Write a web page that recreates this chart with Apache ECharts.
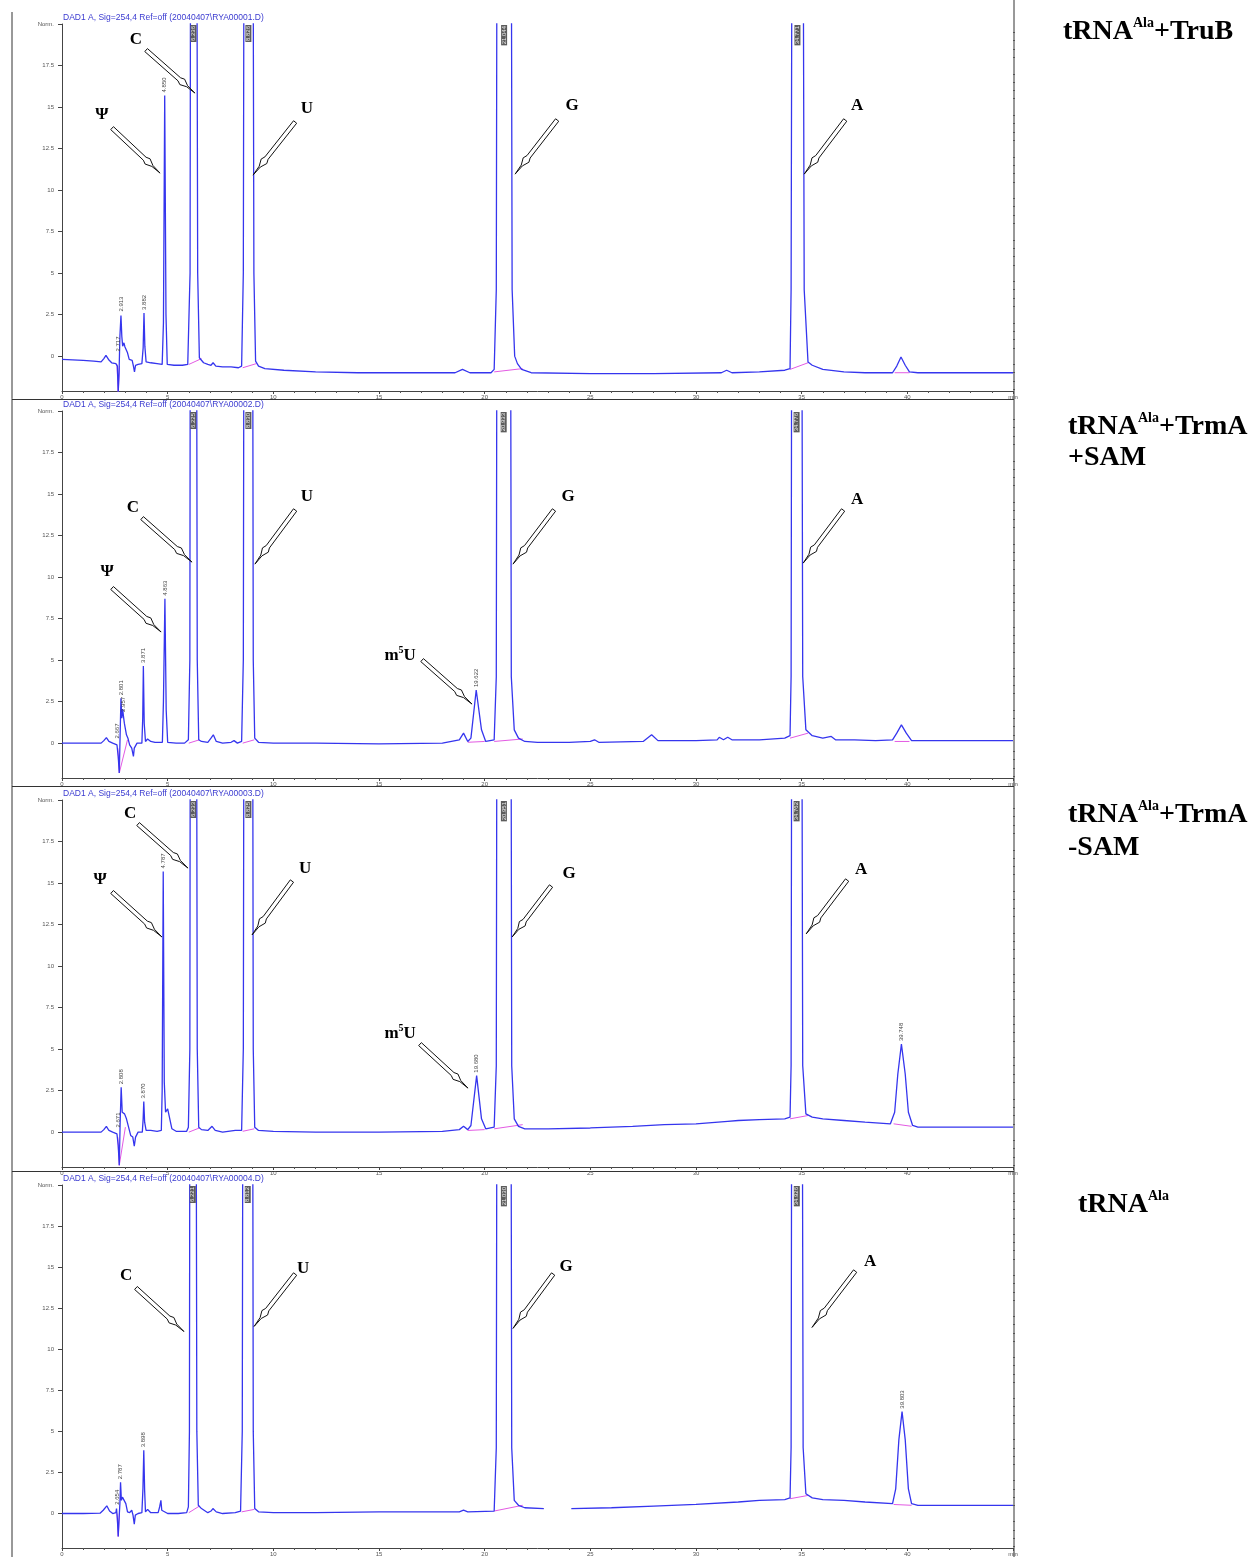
<!DOCTYPE html>
<html><head><meta charset="utf-8">
<script src="https://cdn.jsdelivr.net/npm/echarts@6/dist/echarts.min.js"></script>
<style>html,body{margin:0;padding:0;background:#fff}#c{width:1253px;height:1557px}</style>
</head><body><div id="c"></div>
<script>
// ---------- DATA ----------
const xTickLabels = ['0','5','10','15','20','25','30','35','40','min'];
const yMajorTicks = [0, 2.5, 5, 7.5, 10, 12.5, 15, 17.5, 20];
const yMinorTicks = [-2,-1.5,-1,-0.5,0.5,1,1.5,2,3,3.5,4,4.5,5.5,6,6.5,7,8,8.5,9,9.5,10.5,11,11.5,12,13,13.5,14,14.5,15.5,16,16.5,17,18,18.5,19,19.5];
const headers = [
  'DAD1 A, Sig=254,4 Ref=off (20040407\\RYA00001.D)',
  'DAD1 A, Sig=254,4 Ref=off (20040407\\RYA00002.D)',
  'DAD1 A, Sig=254,4 Ref=off (20040407\\RYA00003.D)',
  'DAD1 A, Sig=254,4 Ref=off (20040407\\RYA00004.D)'
];
// time (min), absorbance (norm.)
const traceTruB = [[0,-0.2],[0.5,-0.22],[1.0,-0.25],[1.5,-0.3],[1.85,-0.35],[1.98,-0.15],[2.08,0.05],[2.2,-0.2],[2.35,-0.4],[2.55,-0.45],[2.62,-0.6],[2.66,-2.2],[2.7,-1.0],[2.74,1.2],[2.79,2.45],[2.83,1.2],[2.87,0.6],[2.93,0.8],[2.98,0.55],[3.03,0.6],[3.1,0.2],[3.18,-0.2],[3.26,-0.15],[3.32,-0.25],[3.38,-0.6],[3.43,-0.95],[3.48,-0.55],[3.6,-0.5],[3.78,-0.45],[3.84,0.5],[3.88,2.6],[3.92,0.6],[3.98,-0.35],[4.2,-0.4],[4.5,-0.45],[4.74,-0.5],[4.8,2.0],[4.86,15.7],[4.92,2.5],[4.98,-0.5],[5.3,-0.55],[5.7,-0.55],[5.95,-0.5],[6.06,5],[6.12,60],[6.32,60],[6.42,5],[6.5,-0.1],[6.58,-0.2],[6.7,-0.4],[6.9,-0.5],[7.05,-0.55],[7.15,-0.4],[7.28,-0.6],[7.6,-0.65],[8.0,-0.65],[8.35,-0.7],[8.5,-0.6],[8.58,5],[8.66,60],[8.98,60],[9.08,5],[9.16,-0.3],[9.3,-0.6],[9.6,-0.75],[10.5,-0.85],[12,-0.95],[14,-1.0],[16,-1.0],[18.6,-1.0],[18.95,-0.8],[19.3,-1.0],[20.3,-1.0],[20.45,-0.8],[20.55,4],[20.63,60],[21.2,60],[21.3,4],[21.42,0],[21.55,-0.45],[21.75,-0.8],[22.2,-1.0],[25,-1.05],[28,-1.05],[31.2,-1.0],[31.45,-0.85],[31.7,-1.0],[33,-0.95],[34.2,-0.85],[34.45,-0.75],[34.5,4],[34.6,60],[35.0,60],[35.12,4],[35.3,-0.35],[35.5,-0.55],[36,-0.8],[37,-0.95],[38,-1.0],[39.3,-1.0],[39.5,-0.6],[39.7,-0.05],[39.9,-0.55],[40.1,-0.95],[40.5,-1.0],[45,-1.0]];
const traceTrmAplus = [[0,0],[1.0,0],[1.85,0],[1.98,0.15],[2.1,0.33],[2.22,0.1],[2.4,0],[2.6,-0.1],[2.66,-0.8],[2.71,-1.8],[2.75,0.5],[2.79,2.7],[2.83,1.5],[2.87,2.05],[2.91,1.6],[2.95,1.2],[3.0,1.1],[3.05,0.5],[3.12,0.3],[3.2,-0.1],[3.3,-0.3],[3.38,-0.8],[3.42,-0.3],[3.55,0],[3.78,0],[3.82,1.5],[3.85,4.65],[3.89,1.2],[3.95,0.1],[4.05,0.25],[4.2,0.1],[4.4,0.05],[4.75,0.05],[4.8,2.5],[4.87,8.7],[4.93,2],[5.0,0.05],[5.4,0],[5.8,0],[5.98,0.2],[6.05,5],[6.1,60],[6.32,60],[6.4,5],[6.47,0.2],[6.6,0.1],[6.9,0.05],[7.05,0.3],[7.16,0.5],[7.3,0.1],[7.6,0],[8.0,0.05],[8.14,0.15],[8.3,0],[8.5,0.1],[8.58,5],[8.65,60],[8.98,60],[9.05,5],[9.12,0.3],[9.3,0.05],[10,0],[12,0],[15,-0.05],[18,0],[18.8,0.2],[19.0,0.6],[19.2,0.1],[19.35,0.3],[19.6,3.2],[19.85,0.8],[20.05,0.1],[20.45,0.2],[20.55,4],[20.62,60],[21.18,60],[21.26,4],[21.4,0.8],[21.6,0.3],[21.9,0.1],[22.5,0.05],[24,0.05],[25.0,0.1],[25.2,0.2],[25.4,0.05],[27.5,0.1],[27.9,0.5],[28.2,0.15],[30,0.15],[31.0,0.2],[31.1,0.35],[31.3,0.2],[31.5,0.35],[31.7,0.2],[33,0.2],[34.2,0.3],[34.45,0.45],[34.5,4],[34.57,60],[34.95,60],[35.05,4],[35.2,0.8],[35.5,0.45],[36,0.3],[36.4,0.4],[36.6,0.2],[37.5,0.2],[38.5,0.15],[39.3,0.2],[39.5,0.6],[39.72,1.1],[39.95,0.6],[40.2,0.15],[41,0.15],[45,0.15]];
const traceTrmAminus = [[0,0],[1.0,0],[1.85,0],[1.98,0.15],[2.1,0.35],[2.22,0.1],[2.4,0],[2.6,-0.1],[2.66,-0.8],[2.71,-2.0],[2.75,0.5],[2.8,2.7],[2.85,1.2],[2.9,1.3],[2.96,1.1],[3.05,0.8],[3.15,0.3],[3.25,-0.2],[3.35,-0.3],[3.42,-0.85],[3.48,-0.3],[3.6,0],[3.8,0],[3.84,0.8],[3.87,1.85],[3.91,0.6],[3.98,0.1],[4.2,0.1],[4.5,0.05],[4.7,0.1],[4.74,2.5],[4.79,15.7],[4.84,3],[4.9,1.2],[5.0,1.4],[5.1,0.8],[5.2,0.2],[5.4,0.05],[5.9,0.05],[5.98,0.3],[6.05,5],[6.1,60],[6.32,60],[6.4,5],[6.47,0.3],[6.6,0.15],[6.9,0.1],[7.1,0.35],[7.25,0.1],[7.6,0],[8.2,0.1],[8.5,0.1],[8.58,5],[8.65,60],[8.98,60],[9.05,5],[9.12,0.3],[9.3,0.1],[10,0.05],[12,0],[15,0],[18,0.05],[18.8,0.15],[19.0,0.35],[19.2,0.15],[19.35,0.4],[19.62,3.4],[19.85,0.8],[20.05,0.2],[20.45,0.3],[20.55,4],[20.62,60],[21.2,60],[21.28,4],[21.4,0.8],[21.6,0.35],[21.9,0.2],[23,0.2],[25,0.25],[27,0.35],[28.5,0.45],[30,0.5],[31.5,0.65],[32,0.7],[33,0.75],[34.2,0.8],[34.45,0.9],[34.5,4],[34.57,60],[34.95,60],[35.05,4],[35.2,1.1],[35.5,0.9],[36,0.8],[37,0.7],[38,0.6],[39.2,0.5],[39.4,1.2],[39.55,3.5],[39.72,5.3],[39.9,3.5],[40.05,1.2],[40.25,0.4],[40.5,0.3],[42,0.3],[45,0.3]];
const traceControl = [[0,0],[1.0,0],[1.8,0.02],[1.95,0.2],[2.12,0.47],[2.25,0.15],[2.4,0],[2.55,0.05],[2.58,0.3],[2.62,-0.3],[2.66,-1.4],[2.7,-0.3],[2.74,0.6],[2.77,1.9],[2.81,0.8],[2.86,1.0],[2.95,0.9],[3.02,0.6],[3.1,0.1],[3.2,0.05],[3.3,0.2],[3.36,-0.1],[3.42,-0.65],[3.47,-0.1],[3.6,0],[3.78,0.05],[3.83,1.5],[3.87,3.85],[3.91,1.4],[3.95,0.1],[4.05,0.25],[4.2,0.05],[4.55,0.05],[4.62,0.4],[4.68,0.8],[4.72,0.2],[4.78,0.1],[5.0,0],[5.5,0],[5.9,0.05],[5.98,0.4],[6.03,5],[6.08,60],[6.3,60],[6.38,5],[6.45,0.5],[6.6,0.3],[6.9,0.05],[7.05,0.15],[7.14,0.3],[7.3,0.1],[7.6,0],[8.2,0.05],[8.45,0.15],[8.53,5],[8.6,60],[8.98,60],[9.05,5],[9.12,0.3],[9.3,0.1],[10,0.05],[12,0.05],[15,0.1],[18,0.1],[18.8,0.1],[19.0,0.2],[19.2,0.1],[20.45,0.15],[20.55,4],[20.62,60],[21.2,60],[21.28,4],[21.4,0.8],[21.6,0.5],[21.9,0.35],[22.8,0.3],[22.85,'-'],[24.1,0.3],[26,0.35],[28,0.45],[30,0.55],[32,0.7],[33,0.8],[34.2,0.85],[34.45,0.95],[34.5,4],[34.57,60],[34.97,60],[35.07,4],[35.2,1.2],[35.5,0.95],[36,0.85],[37,0.8],[38,0.7],[39.3,0.6],[39.45,1.5],[39.6,4.5],[39.75,6.2],[39.9,4.5],[40.05,1.5],[40.2,0.6],[40.5,0.5],[42,0.5],[45,0.5]];
// integration baselines (pink)
const baseTruB = [[2.6,-0.5],[2.66,-2.2],[2.72,-0.6],[2.73,'-'],[6.0,-0.5],[6.6,-0.15],[6.61,'-'],[8.55,-0.7],[9.2,-0.45],[9.21,'-'],[20.45,-0.95],[21.8,-0.75],[21.81,'-'],[34.45,-0.8],[35.3,-0.4],[35.31,'-'],[39.4,-1.0],[40.1,-1.0]];
const baseTrmAplus = [[2.64,-0.3],[2.71,-1.8],[3.1,0.2],[3.11,'-'],[6.0,0],[6.5,0.2],[6.51,'-'],[8.55,0],[9.1,0.2],[9.11,'-'],[19.2,0.05],[20.0,0.1],[20.01,'-'],[20.45,0.1],[21.8,0.25],[21.81,'-'],[34.45,0.3],[35.3,0.6],[35.31,'-'],[39.4,0.1],[40.1,0.1]];
const baseTrmAminus = [[2.64,-0.3],[2.71,-2.0],[3.0,0.3],[3.01,'-'],[6.0,0],[6.5,0.25],[6.51,'-'],[8.55,0.05],[9.1,0.2],[9.11,'-'],[19.2,0.1],[20.0,0.15],[20.01,'-'],[20.45,0.2],[21.8,0.45],[21.81,'-'],[34.45,0.8],[35.3,1.0],[35.31,'-'],[39.35,0.5],[40.2,0.35]];
const baseControl = [[2.6,0],[2.66,-1.4],[2.72,0],[2.73,'-'],[6.0,0.05],[6.5,0.45],[6.51,'-'],[8.5,0.1],[9.1,0.25],[9.11,'-'],[20.45,0.15],[21.8,0.5],[21.81,'-'],[34.45,0.9],[35.3,1.1],[35.31,'-'],[39.35,0.55],[40.2,0.5]];
const traces = [traceTruB, traceTrmAplus, traceTrmAminus, traceControl];
const baselines = [baseTruB, baseTrmAplus, baseTrmAminus, baseControl];
// retention time labels: [time, height, text]; height 'top' = off-scale peak
const rtLabels = [
  [[2.66,0.1,'2.717'],[2.79,2.5,'2.913'],[3.88,2.6,'3.882'],[4.86,15.7,'4.850'],[6.22,'top','6.236'],[8.82,'top','8.826'],[20.92,'top','21.044'],[34.8,'top','34.771']],
  [[2.64,0.1,'2.667'],[2.79,2.7,'2.801'],[2.9,1.7,'2.957'],[3.85,4.65,'3.871'],[4.87,8.7,'4.863'],[19.6,3.2,'19.622'],[6.21,'top','6.225'],[8.82,'top','8.830'],[20.9,'top','20.933'],[34.76,'top','34.776']],
  [[2.66,0.1,'2.671'],[2.8,2.7,'2.808'],[3.87,1.85,'3.870'],[4.79,15.7,'4.787'],[19.62,3.4,'19.680'],[39.72,5.3,'39.748'],[6.21,'top','6.233'],[8.82,'top','8.825'],[20.91,'top','20.951'],[34.76,'top','34.762']],
  [[2.6,0.35,'2.654'],[2.77,1.9,'2.787'],[3.87,3.85,'3.898'],[39.75,6.2,'39.803'],[6.19,'top','6.221'],[8.79,'top','8.812'],[20.91,'top','21.030'],[34.77,'top','34.926']]
];
// peak annotations: [label, letterT, letterV, tailT, tailV, tipT, tipV]
const annotations = [
  [['C',3.50,19.04,3.98,18.43,6.29,15.84],['Ψ',1.89,14.52,2.37,13.73,4.64,11.02],['U',11.59,14.88,11.03,14.10,9.04,10.90],['G',24.14,15.06,23.43,14.22,21.44,10.96],['A',37.62,15.06,37.06,14.22,35.12,10.96]],
  [['C',3.36,14.16,3.79,13.55,6.15,10.90],['Ψ',2.13,10.30,2.37,9.34,4.69,6.69],['U',11.59,14.82,11.03,14.04,9.13,10.78],['G',23.95,14.82,23.28,14.04,21.34,10.78],['A',37.62,14.64,36.96,14.04,35.07,10.84],['m5U',16.0,5.30,17.04,5.0,19.40,2.35]],
  [['C',3.22,19.16,3.60,18.55,5.96,15.90],['Ψ',1.80,15.18,2.37,14.46,4.73,11.75],['U',11.50,15.84,10.88,15.12,8.99,11.87],['G',23.99,15.54,23.14,14.82,21.30,11.75],['A',37.81,15.78,37.15,15.18,35.21,11.93],['m5U',16.0,5.96,16.94,5.30,19.21,2.65]],
  [['C',3.03,14.46,3.50,13.73,5.77,11.08],['U',11.41,14.88,11.03,14.58,9.09,11.39],['G',23.85,15.06,23.24,14.58,21.34,11.27],['A',38.24,15.36,37.53,14.76,35.49,11.33]]
];
const titles = [
  [['tRNA','Ala','+TruB']],
  [['tRNA','Ala','+TrmA'],['+SAM','','']],
  [['tRNA','Ala','+TrmA'],['-SAM','','']],
  [['tRNA','Ala','']]
];

// ---------- LAYOUT ----------
const gridTops = [24, 411, 800, 1185];
const gridH = 367, gridLeft = 62, gridW = 951;
const Y_MIN = -2.1, Y_MAX = 20;
const titlePos = [[1063, 32, 31], [1068, 427, 31], [1068, 815, 33], [1078, 1205, 31]];
const lineColor = '#3535ee';

const grids = [], xAxes = [], yAxes = [], series = [];
for (let p = 0; p < 4; p++) {
  grids.push({left: gridLeft, top: gridTops[p], width: gridW, height: gridH, containLabel: false});
  xAxes.push({
    type: 'value', gridIndex: p, min: 0, max: 45, interval: 5,
    axisLine: {onZero: false, lineStyle: {color: '#444', width: 1}},
    axisTick: {length: 3, lineStyle: {color: '#444'}},
    minorTick: {show: true, splitNumber: 5, length: 2, lineStyle: {color: '#555'}},
    splitLine: {show: false}, minorSplitLine: {show: false},
    axisLabel: {fontSize: 6, color: '#555', margin: 3, fontFamily: 'Liberation Sans',
      formatter: v => xTickLabels[Math.round(v / 5)] || ''}
  });
  yAxes.push({
    type: 'value', gridIndex: p, min: Y_MIN, max: Y_MAX,
    axisLine: {show: true, onZero: false, lineStyle: {color: '#444', width: 1}},
    axisTick: {show: true, length: 4, customValues: yMajorTicks, lineStyle: {color: '#444'}},
    axisLabel: {show: true, fontSize: 6, color: '#555', margin: 8, fontFamily: 'Liberation Sans',
      customValues: yMajorTicks, formatter: v => (v === 20 ? 'Norm.' : String(v))},
    splitLine: {show: false}
  });
  yAxes.push({
    type: 'value', gridIndex: p, min: Y_MIN, max: Y_MAX,
    axisLine: {show: false, onZero: false},
    axisTick: {show: true, length: 2, customValues: yMinorTicks, lineStyle: {color: '#555'}},
    axisLabel: {show: false}, splitLine: {show: false}
  });
  series.push({
    type: 'line', xAxisIndex: p, yAxisIndex: 2 * p, data: baselines[p],
    showSymbol: false, symbol: 'none', silent: true, clip: true, connectNulls: false,
    lineStyle: {color: '#e35ae3', width: 1}, z: 2
  });
  series.push({
    type: 'line', xAxisIndex: p, yAxisIndex: 2 * p, data: traces[p],
    showSymbol: false, symbol: 'none', silent: true, clip: true, connectNulls: false,
    lineStyle: {color: lineColor, width: 1.3}, z: 3
  });
}

const chart = echarts.init(document.getElementById('c'), null, {renderer: 'canvas'});
chart.setOption({
  animation: false, backgroundColor: '#fff',
  grid: grids, xAxis: xAxes, yAxis: yAxes, series: series
});

// ---------- DECORATIONS ----------
const g = [];
g.push({type: 'line', shape: {x1: 12, y1: 12, x2: 12, y2: 1557}, style: {stroke: '#333', lineWidth: 1}});
g.push({type: 'line', shape: {x1: 1014, y1: 0, x2: 1014, y2: 1557}, style: {stroke: '#333', lineWidth: 1}});
[399.5, 786.5, 1171.5].forEach(y => g.push({type: 'line', shape: {x1: 12, y1: y, x2: 1014, y2: y}, style: {stroke: '#333', lineWidth: 1}}));

const px = (p, t, v) => chart.convertToPixel({gridIndex: p}, [t, v]);
const serif = 'Liberation Serif';

for (let p = 0; p < 4; p++) {
  g.push({type: 'text', x: 63, y: gridTops[p] - 2, style: {text: headers[p], fontSize: 8.5, fill: '#3a3ad0',
    fontFamily: 'Liberation Sans', textVerticalAlign: 'bottom', textAlign: 'left'}});
  rtLabels[p].forEach(([t, v, txt]) => {
    if (v === 'top') {
      const pt = px(p, t, Y_MAX);
      g.push({type: 'text', x: pt[0], y: pt[1] + 1, rotation: Math.PI / 2, z: 10,
        style: {text: txt, fontSize: 6, fill: '#eee', backgroundColor: '#5c5c5c', padding: [0, 1],
          fontFamily: 'Liberation Sans', align: 'right', verticalAlign: 'middle'}});
    } else {
      const pt = px(p, t, v);
      g.push({type: 'text', x: pt[0], y: pt[1] - 3, rotation: Math.PI / 2, z: 10,
        style: {text: txt, fontSize: 6, fill: '#444', fontFamily: 'Liberation Sans', align: 'left', verticalAlign: 'middle'}});
    }
  });
  annotations[p].forEach(([lab, lt, lv, tt, tv, pt_, pv]) => {
    const L = px(p, lt, lv), T = px(p, tt, tv), P = px(p, pt_, pv);
    const dx = P[0] - T[0], dy = P[1] - T[1], len = Math.hypot(dx, dy);
    const ux = dx / len, uy = dy / len, nx = -uy, ny = ux;
    const at = (s, w) => [T[0] + ux * len * s + nx * w, T[1] + uy * len * s + ny * w];
    const pts = [at(0, 2), at(0.68, 2), at(0.74, 3.6), at(0.84, 0.7), [P[0], P[1]], at(0.84, -0.7), at(0.74, -3.6), at(0.68, -2), at(0, -2)];
    g.push({type: 'polygon', shape: {points: pts}, style: {fill: '#fff', stroke: '#111', lineWidth: 1}, z: 20});
    let text, rich = null;
    if (lab === 'm5U') {
      text = '{b|m}{s|5}{b|U}';
      rich = {b: {fontSize: 17, fontWeight: 'bold', fontFamily: serif, lineHeight: 20, fill: '#000'},
              s: {fontSize: 10, fontWeight: 'bold', fontFamily: serif, lineHeight: 10, verticalAlign: 'top', fill: '#000'}};
    } else text = lab;
    const st = {text, fontSize: 17, fontWeight: 'bold', fontFamily: serif, fill: '#000', align: 'center', verticalAlign: 'middle'};
    if (rich) st.rich = rich;
    g.push({type: 'text', x: L[0], y: L[1], style: st, z: 21});
  });
  const [tx, ty, lh] = titlePos[p];
  titles[p].forEach((parts, i) => {
    const txt = '{b|' + parts[0] + '}' + (parts[1] ? '{s|' + parts[1] + '}' : '') + (parts[2] ? '{b|' + parts[2] + '}' : '');
    g.push({type: 'text', x: tx, y: ty + i * lh, style: {text: txt, align: 'left', verticalAlign: 'middle',
      rich: {b: {fontSize: 28, fontWeight: 'bold', fontFamily: serif, lineHeight: 31, fill: '#000'},
             s: {fontSize: 14, fontWeight: 'bold', fontFamily: serif, lineHeight: 16, verticalAlign: 'top', fill: '#000'}}}});
  });
}
chart.setOption({graphic: g});
</script>
</body></html>
